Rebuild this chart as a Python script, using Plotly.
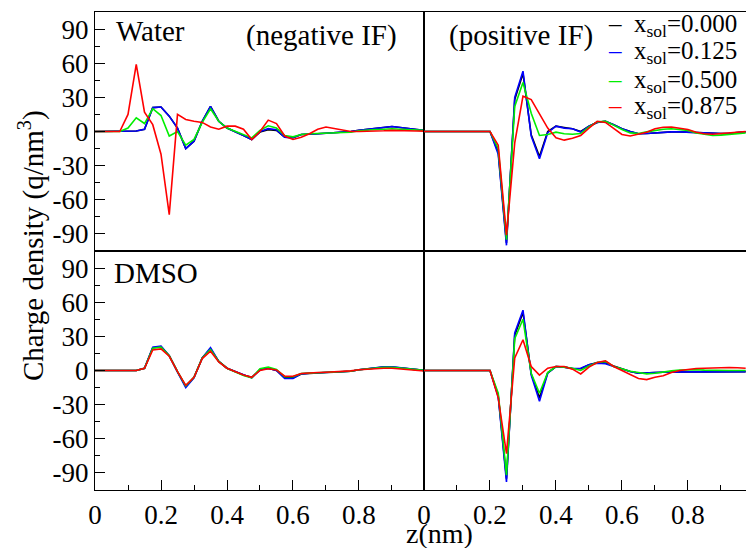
import plotly.graph_objects as go
from plotly.subplots import make_subplots

z = [round(i * 0.025, 3) for i in range(41)]
z_right = z[:40]

labels = ["x<sub>sol</sub>=0.000", "x<sub>sol</sub>=0.125", "x<sub>sol</sub>=0.500", "x<sub>sol</sub>=0.875"]
colors = ["black", "#0000ff", "#00ee00", "#ff0000"]

y_tick_vals = [-90, -60, -30, 0, 30, 60, 90]
y_tick_text = ["-90", "-60", "-30", "0", "30", "60", "90"]
y_minor_vals = [-105, -75, -45, -15, 15, 45, 75, 105]
x_tick_vals = [0, 0.2, 0.4, 0.6, 0.8]
x_tick_text = ["0", "0.2", "0.4", "0.6", "0.8"]
x_minor_vals = [0.1, 0.3, 0.5, 0.7, 0.9]

# Water, negative IF (top-left)
wn_000 = [0, 0, 0, 0, 0, 0.5, 2, 21, 21.5, 13.5, 3, -15, -8.5, 9, 22, 9, 3, 0, -3.5, -7, -0.5, 1.5, 1, -5, -5.5, -2.6, -2, -2, -1.5, -1, -1, 0, 1, 2, 3, 4, 4.4, 3.5, 2.4, 1.8, 1]
wn_125 = [0, 0, 0, 0, 0, 0.5, 2, 21, 21.5, 13.5, 3, -15, -8.5, 9, 22, 9, 3, 0, -3.5, -7, 0, 2.5, 1.5, -5, -5.5, -2.6, -2, -2, -1.5, -1, -1, 0, 1, 2, 3, 4, 4.4, 3.5, 2.4, 1.8, 1]
wn_500 = [0, 0, 0, 0, 3, 12, 7, 20, 14, -4, 0, -12, -7, 8, 20, 9, 3, 0, -2.6, -5.6, 1, 5, 3, -3.5, -4.7, -2.6, -2, -1.8, -1.8, -1.5, -1.2, -0.6, 0.6, 1.5, 1.8, 2, 2.4, 2, 1.8, 1.5, 1]
wn_875 = [0, 0, 0, 0, 15, 59, 17, 6, -20, -73, 15, 10.6, 9, 8, 4, 2, 4.7, 4.7, 2, -7, 0, 10, 7, -4, -7, -5, -2, 2, 4, 2.6, 1, 0, 0, 0, 0.3, 0.6, 1, 1, 0.8, 0.5, 0.3]

# Water, positive IF (top-right)
wp_000 = [0, 0, 0, 0, 0, 0, 0, 0, 0, -18, -98, 28, 51, -3, -22, 0, 4.7, 3.5, 2.4, 0, 4.7, 8, 9, 6, 2.4, 0, -2, -1.8, -1.2, -0.6, -0.3, -0.3, -0.6, -1, -1.5, -1.8, -1.8, -1.5, -1, -0.3]
wp_125 = [0, 0, 0, 0, 0, 0, 0, 0, 0, -20, -100, 30, 53, -4, -24, -1, 4.7, 3, 2.4, -0.5, 4.7, 8, 9, 6, 2.4, 0, -2, -1.8, -1.2, -0.6, -0.3, -0.3, -0.6, -1, -1.5, -1.8, -1.8, -1.5, -1, -0.3]
wp_500 = [0, 0, 0, 0, 0, 0, 0, 0, 0, -15, -95, 22, 43, 16, -3.5, -2.6, -0.6, -2, -2.4, -1.8, 4, 8.5, 9, 5.6, 1.8, -1.2, -1.8, -0.3, 1, 2, 2.4, 1.8, 1, -1.2, -2.6, -3.5, -3.2, -2.6, -1.8, -1.2]
wp_875 = [0, 0, 0, 0, 0, 0, 0, 0, 0, -12, -91, -10, 31, 28, 16, 3, -5.6, -7.6, -6, -3.5, 3, 9, 8, 2.4, -2.6, -4, -2.6, -0.6, 2.4, 3.8, 4, 3, 1.8, -0.6, -2, -2.4, -1.8, -1.2, -0.6, 0]

# DMSO, negative IF (bottom-left)
dn_000 = [0, 0, 0, 0, 0, 0, 2, 20, 21, 13, -1, -14, -6, 11, 19, 8, 2, -1, -4, -6, 0.6, 2, 0, -6.5, -6.5, -3, -2.4, -2, -1.8, -1.5, -1.2, -0.6, 0.6, 1.5, 2.4, 3, 3, 2.4, 1.5, 0.6, 0]
dn_125 = [0, 0, 0, 0, 0, 0, 2, 20.5, 21.5, 13, -1.5, -15, -6.5, 11, 20, 8, 2, -1, -4, -6.5, 0.8, 2, 0, -7, -7, -3, -2.4, -2, -1.8, -1.5, -1.2, -0.6, 0.6, 1.5, 2.4, 3.2, 3.2, 2.4, 1.5, 0.6, 0]
dn_500 = [0, 0, 0, 0, 0, 0, 2, 19.5, 20.5, 13, -1, -13.5, -6, 11, 18.5, 8, 2, -1, -4.5, -6.5, 1.5, 3, 1, -5.5, -5.5, -2.6, -2.2, -2, -1.8, -1.5, -1.2, -0.6, 0.6, 1.5, 2.2, 2.8, 2.8, 2.2, 1.5, 0.6, 0]
dn_875 = [0, 0, 0, 0, 0, 0, 2, 18, 19, 12.5, -1, -13, -6, 10.5, 17, 7.5, 2, -1, -4, -6, 0, 1.5, 0.5, -5, -5, -2.6, -2, -1.8, -1.5, -1.2, -0.8, -0.3, 0.6, 1.2, 1.8, 2, 2, 1.5, 0.6, 0, -0.5]

# DMSO, positive IF (bottom-right)
dp_000 = [0, 0, 0, 0, 0, 0, 0, 0, 0, -22, -95, 31, 51, -3, -24, -2, 3.5, 3, 1.8, 1.5, 5, 7, 6.5, 4, 1.2, -0.9, -2.4, -2.4, -1.8, -1.5, -1.2, -1.2, -1.2, -1.2, -1.2, -1.2, -1.2, -1.2, -1, -1]
dp_125 = [0, 0, 0, 0, 0, 0, 0, 0, 0, -23, -98, 33, 53, -4, -27, -2.4, 3.5, 3, 1.8, 2, 5, 6.5, 6, 3.5, 1.2, -0.9, -2.4, -2.4, -1.8, -1.5, -1.2, -1.2, -1.2, -1.2, -1.2, -1.2, -1.5, -1.2, -1, -1]
dp_500 = [0, 0, 0, 0, 0, 0, 0, 0, 0, -20, -92, 28, 45, -2.4, -20, -1.8, 3.5, 3, 2, 0, 4, 7, 8, 3.5, 1.2, -0.6, -1.8, -3, -2.4, -1.2, -0.3, 0.3, 0.6, 0.6, 0.3, 0, 0, 0, 0, 0]
dp_875 = [0, 0, 0, 0, 0, 0, 0, 0, 0, -24, -73, 11, 27, 3.5, -4, 2, 3.5, 3.5, 1.2, -3, 3, 7, 8.5, 3.5, 0, -4, -7, -8, -6, -4.7, -1.8, 0, 1.2, 1.8, 2, 2.4, 2.6, 2.6, 2.4, 2]

panels = [
    (1, 1, z, [wn_000, wn_125, wn_500, wn_875]),
    (1, 2, z_right, [wp_000, wp_125, wp_500, wp_875]),
    (2, 1, z, [dn_000, dn_125, dn_500, dn_875]),
    (2, 2, z_right, [dp_000, dp_125, dp_500, dp_875]),
]

fig = make_subplots(rows=2, cols=2, horizontal_spacing=0, vertical_spacing=0,
                    column_widths=[329, 322])

for (r, c, xs, series) in panels:
    for k, ys in enumerate(series):
        fig.add_trace(go.Scatter(
            x=xs, y=ys, mode="lines", name=labels[k],
            line=dict(color=colors[k], width=1.6),
            showlegend=False), row=r, col=c)

FONT = "Liberation Serif"
TICKSIZE = 27
axis_common = dict(showline=True, linecolor="black", linewidth=1.2, mirror=True,
                   showgrid=False, zeroline=False)

for r in (1, 2):
    for c in (1, 2):
        xr = [0, 0.997] if c == 1 else [0, 0.976]
        xa = dict(axis_common, range=xr)
        if r == 2:
            xa.update(tickmode="array", tickvals=x_tick_vals, ticktext=x_tick_text,
                      ticks="inside", ticklen=10, tickwidth=1.2, tickcolor="black",
                      showticklabels=True,
                      tickfont=dict(family=FONT, size=TICKSIZE, color="black"),
                      minor=dict(tickmode="array", tickvals=x_minor_vals, ticks="inside",
                                 ticklen=5, tickwidth=1.2, tickcolor="black"))
        else:
            xa.update(ticks="", showticklabels=False)
        fig.update_xaxes(row=r, col=c, **xa)
        ya = dict(axis_common, range=[-105, 105])
        if c == 1:
            ya.update(tickmode="array", tickvals=y_tick_vals, ticktext=y_tick_text,
                      ticks="inside", ticklen=10, tickwidth=1.2, tickcolor="black",
                      showticklabels=True,
                      tickfont=dict(family=FONT, size=TICKSIZE, color="black"),
                      minor=dict(tickmode="array", tickvals=y_minor_vals, ticks="inside",
                                 ticklen=5, tickwidth=1.2, tickcolor="black"))
        else:
            ya.update(ticks="", showticklabels=False)
        fig.update_yaxes(row=r, col=c, **ya)

# plot area in pixels: x 95..746, y 12..490
def px(xp):
    return (xp - 95) / 651.0

def py(yp):
    return (490 - yp) / 478.0

annots = [
    dict(text="Water", x=px(114), y=py(31), xanchor="left", yanchor="middle", size=29),
    dict(text="(negative IF)", x=px(244), y=py(35), xanchor="left", yanchor="middle", size=29),
    dict(text="(positive IF)", x=px(447), y=py(35), xanchor="left", yanchor="middle", size=29),
    dict(text="DMSO", x=px(112), y=py(273), xanchor="left", yanchor="middle", size=29),
    dict(text="z(nm)", x=px(439), y=py(533), xanchor="center", yanchor="middle", size=28),
    dict(text="Charge density (q/nm<sup>3</sup>)", x=px(31), y=py(246), xanchor="center",
         yanchor="middle", textangle=-90, size=29),
]
legend_y = [24, 52, 80, 107]
for k in range(4):
    annots.append(dict(
        text="<span style='color:%s'>\u2013</span>\u00a0\u00a0%s" % (colors[k], labels[k]),
        x=px(739), y=py(legend_y[k] + 1), xanchor="right", yanchor="middle", size=25))

for a in annots:
    size = a.pop("size")
    fig.add_annotation(xref="paper", yref="paper", showarrow=False,
                       font=dict(family=FONT, color="black", size=size), **a)

fig.update_layout(
    width=746, height=548,
    margin=dict(l=95, r=0, t=12, b=58),
    plot_bgcolor="white", paper_bgcolor="white",
    font=dict(family=FONT, size=TICKSIZE, color="black"),
    showlegend=False,
)

fig.write_html("out.html")
